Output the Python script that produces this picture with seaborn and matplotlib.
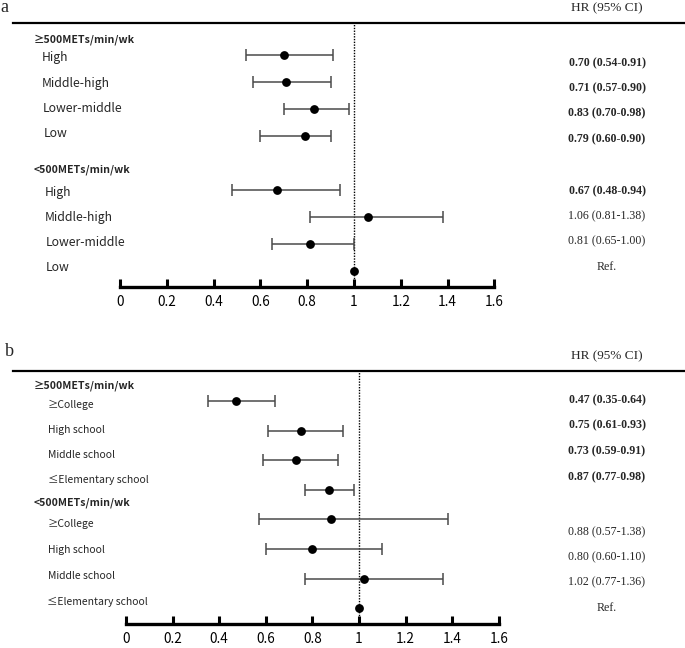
import numpy as np
import pandas as pd
import matplotlib
matplotlib.use("Agg")
import matplotlib.pyplot as plt
import seaborn as sns

sns.set_theme(style="white")
plt.rcParams['font.family'] = ['Noto Sans CJK KR', 'DejaVu Sans']

# ---------------- data ----------------
group_labels = ["≥500METs/min/wk", "<500METs/min/wk"]

a_levels = ["High", "Middle-high", "Lower-middle", "Low"]
a_hr_high = [0.70, 0.71, 0.83, 0.79]
a_lo_high = [0.54, 0.57, 0.70, 0.60]
a_up_high = [0.91, 0.90, 0.98, 0.90]
a_hr_low = [0.67, 1.06, 0.81, 1.00]
a_lo_low = [0.48, 0.81, 0.65, 1.00]
a_up_low = [0.94, 1.38, 1.00, 1.00]
a_text_high = ["0.70 (0.54-0.91)", "0.71 (0.57-0.90)", "0.83 (0.70-0.98)", "0.79 (0.60-0.90)"]
a_text_low = ["0.67 (0.48-0.94)", "1.06 (0.81-1.38)", "0.81 (0.65-1.00)", "Ref."]
a_bold_low = [True, False, False, False]

b_levels = ["≥College", "High school", "Middle school", "≤Elementary school"]
b_hr_high = [0.47, 0.75, 0.73, 0.87]
b_lo_high = [0.35, 0.61, 0.59, 0.77]
b_up_high = [0.64, 0.93, 0.91, 0.98]
b_hr_low = [0.88, 0.80, 1.02, 1.00]
b_lo_low = [0.57, 0.60, 0.77, 1.00]
b_up_low = [1.38, 1.10, 1.36, 1.00]
b_text_high = ["0.47 (0.35-0.64)", "0.75 (0.61-0.93)", "0.73 (0.59-0.91)", "0.87 (0.77-0.98)"]
b_text_low = ["0.88 (0.57-1.38)", "0.80 (0.60-1.10)", "1.02 (0.77-1.36)", "Ref."]
b_bold_low = [False, False, False, False]

xticks = [0, 0.2, 0.4, 0.6, 0.8, 1, 1.2, 1.4, 1.6]
xticklabels = ["0", "0.2", "0.4", "0.6", "0.8", "1", "1.2", "1.4", "1.6"]

W, H = 685, 648
fig = plt.figure(figsize=(W / 100, H / 100), dpi=100)

SANS = ['Noto Sans CJK KR', 'DejaVu Sans']
SERIF = ['Liberation Serif', 'DejaVu Serif']


def panel(letter, top_px, bot_px, x0_px, x1_px, levels, hr_h, lo_h, up_h, hr_l, lo_l, up_l,
          text_h, text_l, bold_l, point_rows, label_rows, header_rows, text_rows,
          label_x, header_x, letter_xy, label_size):
    ax = fig.add_axes([0, 1 - bot_px / H, 1, (bot_px - top_px) / H])
    unit = x1_px - x0_px
    ax.set_xlim(-x0_px / unit, (W - x0_px) / unit)
    ax.set_ylim(bot_px, top_px)
    ax.set_facecolor("none")

    df = pd.DataFrame({
        "hr": hr_h + hr_l,
        "lo": lo_h + lo_l,
        "up": up_h + up_l,
        "y": point_rows,
    })
    ax.axvline(1, color="black", lw=1.0, ls=(0, (1, 1)), zorder=1)
    ci = df[df.up > df.lo]
    ax.errorbar(ci.hr, ci.y, xerr=[ci.hr - ci.lo, ci.up - ci.hr], fmt="none",
                ecolor="#4a4a4a", elinewidth=1.1, capsize=4, capthick=1.1, zorder=2)
    sns.scatterplot(data=df, x="hr", y="y", ax=ax, color="black", s=40,
                    edgecolor="black", linewidth=0, zorder=3, legend=False)

    # axes styling
    for s in ["left", "right"]:
        ax.spines[s].set_visible(False)
    ax.spines["top"].set_visible(True)
    ax.spines["top"].set_linewidth(1.6)
    ax.spines["top"].set_color("black")
    ax.spines["top"].set_bounds((13 - x0_px) / unit, (W - x0_px) / unit)
    ax.spines["bottom"].set_linewidth(2.4)
    ax.spines["bottom"].set_color("black")
    ax.spines["bottom"].set_bounds(0, 1.6)
    ax.set_xticks(xticks)
    ax.set_xticklabels(xticklabels, fontsize=9.8, family=SANS)
    ax.tick_params(axis="x", direction="in", length=6, width=2.2, pad=6, colors="black",
                   bottom=True)
    ax.set_yticks([])
    ax.set_xlabel("")
    ax.set_ylabel("")
    ax.grid(False)

    xt = lambda px: (px - x0_px) / unit
    # group headers and level labels
    for g, hy in zip(group_labels, header_rows):
        ax.text(xt(header_x), hy, g, fontsize=7.6, fontweight="bold", family=SANS,
                va="center", ha="left")
    for i, lab in enumerate(levels + levels):
        ax.text(xt(label_x[i]), label_rows[i], lab, fontsize=label_size, family=SANS,
                va="center", ha="left")
    # right column
    ax.text(xt(607), top_px - 15, "HR (95% CI)", fontsize=9.5, family=SERIF,
            va="center", ha="center", clip_on=False)
    bolds = [True] * len(text_h) + bold_l
    for i, t in enumerate(text_h + text_l):
        ax.text(xt(607), text_rows[i], t, fontsize=8.6, family=SERIF,
                fontweight="bold" if bolds[i] else "normal", va="center", ha="center")
    fig.text(letter_xy[0] / W, 1 - letter_xy[1] / H, letter, fontsize=13, family=SERIF,
             va="center", ha="left")
    return ax


# panel a layout rows (pixel positions)
pa_points = [55 + 27 * k for k in [0, 1, 2, 3, 5, 6, 7, 8]]
pa_labels = [58 + 25.3 * i for i in range(4)] + [192 + 25.3 * i for i in range(4)]
pa_headers = [40, 170]
pa_text = [63 + 25.3 * i for i in range(4)] + [191 + 25.3 * i for i in range(4)]
pa_lx = [42, 42, 43, 44, 45, 45, 46, 46]

panel("a", 23, 287, 120, 354, a_levels, a_hr_high, a_lo_high, a_up_high,
      a_hr_low, a_lo_low, a_up_low, a_text_high, a_text_low, a_bold_low,
      pa_points, pa_labels, pa_headers, pa_text, pa_lx, 34, (0, 8), 8.8)

pb_points = [401 + 29.6 * k for k in range(8)]
pb_labels = [405 + 25 * i for i in range(4)] + [524 + 26 * i for i in range(4)]
pb_headers = [386, 503]
pb_text = [400 + 25.7 * i for i in range(4)] + [532 + 25.3 * i for i in range(4)]
pb_lx = [48, 48, 48, 48, 48, 48, 48, 47]

panel("b", 371, 624, 126, 359, b_levels, b_hr_high, b_lo_high, b_up_high,
      b_hr_low, b_lo_low, b_up_low, b_text_high, b_text_low, b_bold_low,
      pb_points, pb_labels, pb_headers, pb_text, pb_lx, 34, (5, 352), 7.5)

fig.savefig("out.png", dpi=100)
